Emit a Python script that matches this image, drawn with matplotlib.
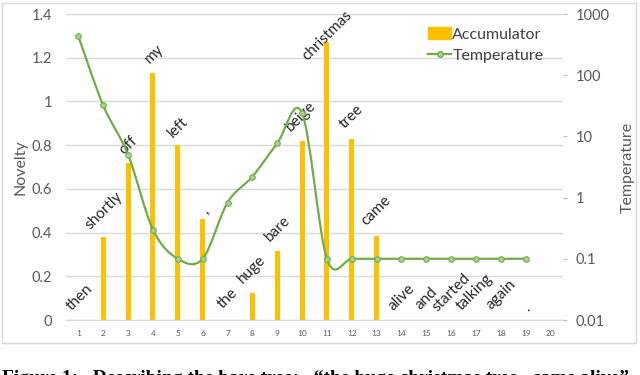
import numpy as np
import matplotlib.pyplot as plt
from matplotlib.path import Path
from matplotlib.patches import PathPatch, Rectangle
from matplotlib.lines import Line2D

# data
positions = list(range(1, 21))
novelty = [0, 0.38, 0.72, 1.13, 0.80, 0.46, 0, 0.125, 0.316, 0.82,
           1.27, 0.83, 0.384, 0, 0, 0, 0, 0, 0, 0]
temp_x = list(range(1, 20))
temperature = [430, 32, 5, 0.30, 0.1, 0.1, 0.83, 2.2, 7.7, 24,
               0.1, 0.1, 0.1, 0.1, 0.1, 0.1, 0.1, 0.1, 0.1]
words = ["then", "shortly", "off", "my", "left", ",", "the", "huge", "bare",
         "beige", "christmas", "tree", "came", "alive", "and", "started",
         "talking", "again", "."]
word_x = [1.05, 2.03, 3.0, 4.04, 5.0, 6.1, 7.02, 7.98, 9.03, 9.96, 11.0,
          11.97, 12.97, 14.02, 14.99, 16.0, 16.96, 18.0, 19.05]
word_y = [0.105, 0.50, 0.80, 1.22, 0.88, 0.50, 0.10, 0.23, 0.42, 0.93, 1.30,
          0.93, 0.50, 0.105, 0.10, 0.125, 0.125, 0.115, 0.055]
right_ticks = [0.01, 0.1, 1, 10, 100, 1000]
right_labels = ["0.01", "0.1", "1", "10", "100", "1000"]

plt.rcParams["font.family"] = ["Lato", "DejaVu Sans"]
gray = "#595959"
bar_color = "#FFC000"
line_color = "#70AD47"

fig = plt.figure(figsize=(6.4, 3.75), dpi=100)
ax = fig.add_axes([66 / 640, 1 - 320 / 375, 497 / 640, 306 / 375])

ax.bar(positions, novelty, width=0.2, color=bar_color, zorder=2)
ax.set_xlim(0.5, 20.5)
ax.set_ylim(0, 1.4)
ax.set_yticks(np.arange(0, 1.41, 0.2))
ax.set_yticklabels(["0", "0.2", "0.4", "0.6", "0.8", "1", "1.2", "1.4"])
ax.set_xticks(positions)
ax.tick_params(axis="x", length=0, labelsize=6, labelcolor=gray, pad=7)
ax.tick_params(axis="y", length=0, labelsize=10.5, labelcolor=gray, pad=10)
ax.grid(axis="y", color="#D9D9D9", linewidth=1)
ax.set_axisbelow(True)
for s in ["top", "right", "left"]:
    ax.spines[s].set_visible(False)
ax.spines["bottom"].set_color("#D9D9D9")
ax.set_ylabel("Novelty", fontsize=11.5, color=gray, labelpad=3)

for w, x, y in zip(words, word_x, word_y):
    ax.text(x, y, w, rotation=45, ha="center", va="center",
            fontsize=11, color="#262626", zorder=5)

# temperature on log axis, smoothed like excel (bezier through the points)
ax2 = ax.twinx()
ax2.set_yscale("log")
ax2.set_ylim(0.01, 1000)
ly = np.log10(temperature)
xs = np.array(temp_x, dtype=float)
verts = [(xs[0], ly[0])]
codes = [Path.MOVETO]
n = len(xs)
for i in range(n - 1):
    p0 = i - 1 if i > 0 else i
    p3 = i + 2 if i + 2 < n else i + 1
    c1 = (xs[i] + (xs[i + 1] - xs[p0]) / 6, ly[i] + (ly[i + 1] - ly[p0]) / 6)
    c2 = (xs[i + 1] - (xs[p3] - xs[i]) / 6, ly[i + 1] - (ly[p3] - ly[i]) / 6)
    verts += [c1, c2, (xs[i + 1], ly[i + 1])]
    codes += [Path.CURVE4] * 3
verts = [(vx, 10 ** vy) for vx, vy in verts]
ax2.add_patch(PathPatch(Path(verts, codes), facecolor="none",
                        edgecolor=line_color, linewidth=1.6, zorder=3))
ax2.plot(temp_x, temperature, linestyle="none", marker="o", markersize=4,
         markerfacecolor="#A9D18E", markeredgecolor=line_color,
         markeredgewidth=0.8, zorder=4)
ax2.set_yticks(right_ticks)
ax2.set_yticklabels(right_labels)
ax2.minorticks_off()
ax2.tick_params(axis="y", length=3, color="#BFBFBF", labelsize=10.5,
                labelcolor=gray, pad=6)
for s in ["top", "right", "left", "bottom"]:
    ax2.spines[s].set_visible(False)
ax2.set_ylabel("Temperature", fontsize=11.5, color=gray, labelpad=8)

handles = [Rectangle((0, 0), 1, 1, color=bar_color),
           Line2D([], [], color=line_color, linewidth=1.6, marker="o",
                  markersize=4, markerfacecolor="#A9D18E",
                  markeredgecolor=line_color)]
fig.legend(handles, ["Accumulator", "Temperature"], loc="upper left",
           bbox_to_anchor=(414 / 640, 1 - 13 / 375), frameon=False,
           fontsize=11.5, labelcolor="#404040", handlelength=1.4,
           handletextpad=0.1, labelspacing=0.45)

# chart border
fig.patches.append(Rectangle((2 / 640, 1 - 343 / 375), 634 / 640, 340 / 375,
                             transform=fig.transFigure, fill=False,
                             edgecolor="#D9D9D9", linewidth=1))

# caption of the paper, cut off at the bottom edge
fig.text(2 / 640, 1 - 370 / 375,
         "Figure 1:   Describing the bare tree:   \u201cthe huge christmas tree   came alive\u201d",
         family=["Liberation Serif", "DejaVu Serif"], fontweight="bold",
         fontsize=14, va="top", ha="left")

fig.savefig("out.png", dpi=100)
